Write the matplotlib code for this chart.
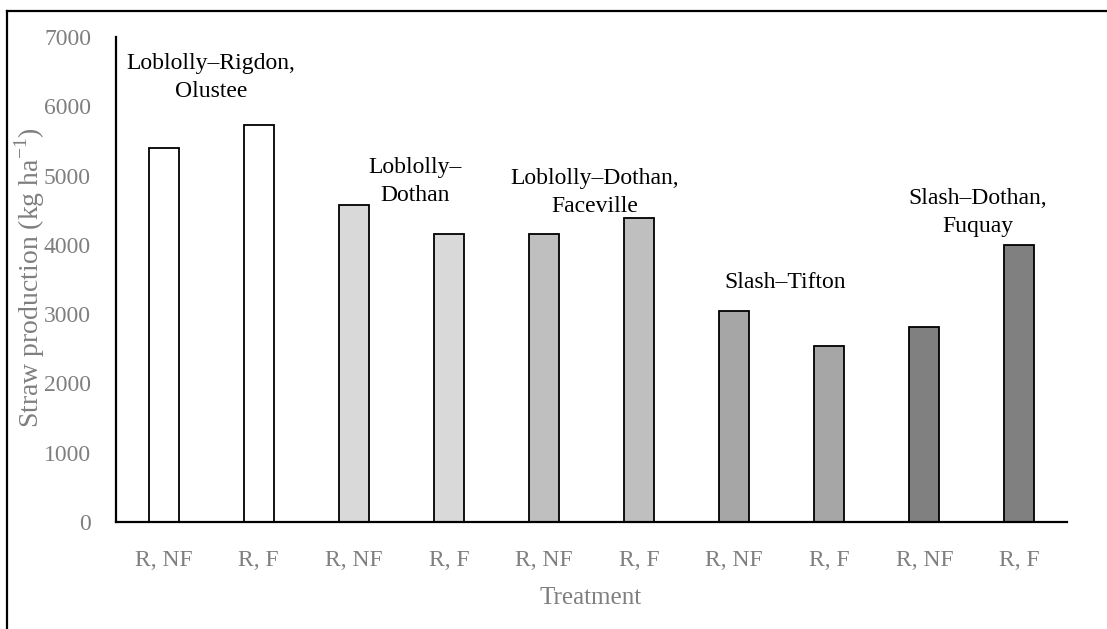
import matplotlib
matplotlib.use("Agg")
import matplotlib.pyplot as plt
from matplotlib.lines import Line2D

plt.rcParams['font.family'] = ['Liberation Serif', 'DejaVu Serif']
plt.rcParams['mathtext.fontset'] = 'custom'
plt.rcParams['mathtext.rm'] = 'Liberation Serif'

treatments = ["R, NF", "R, F", "R, NF", "R, F", "R, NF", "R, F", "R, NF", "R, F", "R, NF", "R, F"]
straw = [5400, 5730, 4580, 4150, 4150, 4390, 3040, 2540, 2820, 4000]
bar_colors = ["#ffffff", "#ffffff", "#d9d9d9", "#d9d9d9", "#bfbfbf",
              "#bfbfbf", "#a6a6a6", "#a6a6a6", "#808080", "#808080"]

# site labels: (text, x in category units, y in data units)
sites = ["Loblolly\u2013Rigdon,\nOlustee", "Loblolly\u2013\nDothan",
         "Loblolly\u2013Dothan,\nFaceville", "Slash\u2013Tifton",
         "Slash\u2013Dothan,\nFuquay"]
site_x = [0.5, 2.64, 4.53, 6.54, 8.56]
site_y = [6420, 4920, 4760, 3450, 4470]

W, H = 1107, 629
fig = plt.figure(figsize=(W / 100, H / 100), dpi=100)
ax = fig.add_axes([116 / W, 1 - 522 / H, (1067 - 116) / W, (522 - 37) / H])

x = range(len(straw))
ax.bar(x, straw, width=0.316, color=bar_colors, edgecolor="black", linewidth=1.3)

for txt, sx, sy in zip(sites, site_x, site_y):
    ax.text(sx, sy, txt, ha="center", va="center", fontsize=17,
            color="black", linespacing=1.45)

ax.set_xlim(-0.5, 9.5)
ax.set_ylim(0, 7000)
ax.set_yticks(range(0, 7001, 1000))
ax.set_xticks(list(x))
ax.set_xticklabels(treatments)
ax.tick_params(axis="both", length=0, labelsize=17, labelcolor="#7f7f7f")
ax.tick_params(axis="x", pad=20)
ax.tick_params(axis="y", pad=18)

for s in ["top", "right"]:
    ax.spines[s].set_visible(False)
ax.spines["left"].set_linewidth(1.6)
ax.spines["bottom"].set_linewidth(1.6)

fig.text(30 / W, 1 - 278 / H, "Straw production (kg ha$^{-1}$)", rotation=90,
         ha="center", va="center", fontsize=20, color="#7f7f7f")
fig.text(591 / W, 1 - 598 / H, "Treatment", ha="center", va="center",
         fontsize=18, color="#7f7f7f")

# outer frame
fig.add_artist(Line2D([7 / W, 1.0], [1 - 11 / H, 1 - 11 / H], color="black", lw=1.6))
fig.add_artist(Line2D([7 / W, 7 / W], [0.0, 1 - 11 / H], color="black", lw=1.6))

fig.savefig("out.png", dpi=100)
